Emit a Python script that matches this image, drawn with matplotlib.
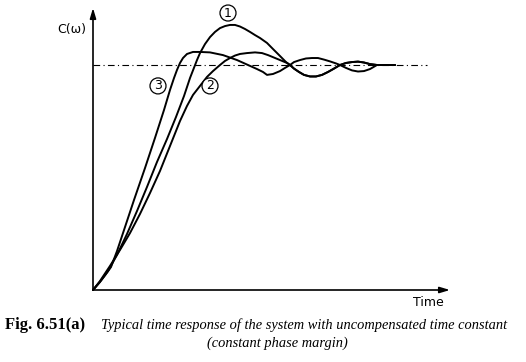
import matplotlib
matplotlib.use("Agg")
import matplotlib.pyplot as plt

# ---- data (time in arbitrary units, response normalised to steady state) ----
t1 = [0, 0.7, 1.5, 2.4, 3.4, 4.4, 5.4, 6.4, 7.4, 8.3, 9.1, 9.7, 10.4, 10.7, 11.2, 11.7,
      12.2, 12.7, 13.2, 13.7, 14.2, 14.7, 15.2, 15.7, 16.2, 16.7, 17.4, 18.0, 18.7,
      19.3, 19.7, 20.1, 20.6, 21.1, 21.7, 22.3, 22.9, 23.5, 24.1, 24.7, 25.3, 25.9,
      26.5, 27.1, 27.7, 28.4, 30.2]
c1 = [0, 0.036, 0.084, 0.156, 0.249, 0.351, 0.458, 0.569, 0.671, 0.769, 0.862, 0.942,
      1.022, 1.053, 1.093, 1.124, 1.147, 1.164, 1.173, 1.178, 1.178, 1.171, 1.160,
      1.147, 1.133, 1.120, 1.098, 1.071, 1.040, 1.013, 1.0, 0.984, 0.969, 0.956, 0.949,
      0.949, 0.956, 0.969, 0.984, 1.0, 1.009, 1.013, 1.015, 1.011, 1.004, 1.0, 1.0]

t2 = [0, 0.7, 1.7, 2.7, 3.7, 4.7, 5.7, 6.7, 7.7, 8.7, 9.4, 10.0, 10.7, 11.4, 12.0,
      12.7, 13.2, 13.7, 14.2, 14.7, 15.4, 16.2, 16.9, 17.5, 18.1, 18.7, 19.4, 19.7,
      20.1, 20.6, 21.1, 21.7, 22.3, 22.9, 23.5, 24.1, 24.7, 25.3, 25.9, 26.5, 27.1,
      27.7, 28.4, 30.2]
c2 = [0, 0.040, 0.107, 0.178, 0.253, 0.338, 0.431, 0.529, 0.640, 0.751, 0.818, 0.867,
      0.907, 0.947, 0.973, 1.0, 1.018, 1.031, 1.042, 1.049, 1.053, 1.056, 1.053,
      1.044, 1.033, 1.022, 1.009, 1.0, 0.984, 0.969, 0.956, 0.949, 0.949, 0.956,
      0.969, 0.984, 1.0, 1.009, 1.013, 1.015, 1.011, 1.004, 1.0, 1.0]

t3 = [0, 0.7, 1.3, 1.8, 2.4, 3.0, 4.1, 5.2, 6.2, 7.1, 7.7, 8.1, 8.4, 8.7, 9.0, 9.4,
      10.0, 10.7, 11.7, 13.0, 14.4, 15.7, 16.4, 17.0, 17.4, 18.0, 18.7, 19.2, 19.7,
      20.1, 20.7, 21.3, 21.9, 22.5, 23.1, 23.7, 24.3, 24.7, 25.3, 25.9, 26.5, 27.1,
      27.7, 28.4, 30.2]
c3 = [0, 0.036, 0.071, 0.102, 0.173, 0.253, 0.400, 0.542, 0.676, 0.800, 0.889, 0.942,
      0.978, 1.009, 1.031, 1.049, 1.058, 1.058, 1.056, 1.044, 1.022, 0.996, 0.982,
      0.969, 0.956, 0.960, 0.973, 0.987, 1.0, 1.013, 1.022, 1.029, 1.031, 1.031,
      1.024, 1.016, 1.007, 1.0, 0.987, 0.976, 0.971, 0.973, 0.982, 1.0, 1.0]

steady_value = 1.0
steady_t = [0, 33.4]

curve_labels = ["1", "2", "3"]
label_pos = [(13.5, 1.231), (11.7, 0.907), (6.5, 0.907)]

x_label = "Time"
y_label = "C(ω)"
fig_label = "Fig. 6.51(a)"
caption1 = "Typical time response of the system with uncompensated time constant"
caption2 = "(constant phase margin)"

XMAX, YMAX = 35.7, 1.2533

fig = plt.figure(figsize=(5.26, 3.62), dpi=100)
ax = fig.add_axes([93/526, 72/362, 357/526, 282/362])
ax.set_xlim(0, XMAX)
ax.set_ylim(0, YMAX)
ax.axis("off")

# axes with arrows
ax.annotate("", xy=(1, 0), xytext=(0, 0), xycoords="axes fraction",
            arrowprops=dict(arrowstyle="-|>,head_length=0.6,head_width=0.18",
                            lw=1.2, color="black", shrinkA=0, shrinkB=0))
ax.annotate("", xy=(0, 1), xytext=(0, 0), xycoords="axes fraction",
            arrowprops=dict(arrowstyle="-|>,head_length=0.6,head_width=0.18",
                            lw=1.2, color="black", shrinkA=0, shrinkB=0))

ax.plot(steady_t, [steady_value]*2, color="black", lw=0.8,
        dashes=(6, 3, 1, 3), clip_on=False)

for t, c in [(t1, c1), (t2, c2), (t3, c3)]:
    ax.plot(t, c, color="black", lw=1.4, solid_capstyle="round",
            solid_joinstyle="round", clip_on=False)

for lab, (x, y) in zip(curve_labels, label_pos):
    ax.text(x, y, lab, fontsize=9, ha="center", va="center",
            family="DejaVu Sans", clip_on=False,
            bbox=dict(boxstyle="circle,pad=0.12", fc="white", ec="black", lw=0.9))

fig.text(72/526, 1 - 30/362, y_label, fontsize=9, ha="center", va="center",
         family="DejaVu Sans")
fig.text(428/526, 1 - 303/362, x_label, fontsize=9, ha="center", va="center",
         family="DejaVu Sans")

fig.text(5/526, 1 - 325/362, fig_label, fontsize=12, ha="left", va="center",
         family="Liberation Serif", weight="bold")
fig.text(101/526, 1 - 325/362, caption1, fontsize=10.4, ha="left", va="center",
         family="Liberation Serif", style="italic")
fig.text(277/526, 1 - 343/362, caption2, fontsize=10.4, ha="center", va="center",
         family="Liberation Serif", style="italic")

fig.savefig("out.png", dpi=100, facecolor="white")
